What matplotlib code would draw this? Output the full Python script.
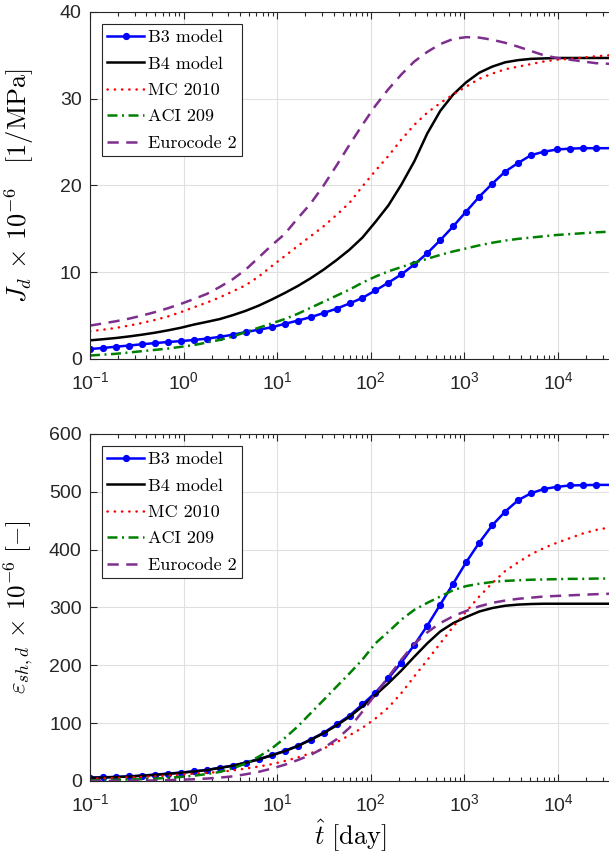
import numpy as np
import matplotlib
matplotlib.use('Agg')
import matplotlib.pyplot as plt
from matplotlib.ticker import FuncFormatter, FixedLocator, LogLocator, NullFormatter

plt.rcParams['font.family'] = 'Liberation Sans'
plt.rcParams['mathtext.fontset'] = 'cm'
plt.rcParams['axes.unicode_minus'] = False

# time axis shared by all curves [day]
t_days = [0.1, 0.138, 0.189, 0.261, 0.358, 0.493, 0.679, 0.933, 1.28, 1.77,
          2.43, 3.35, 4.60, 6.34, 8.72, 12.0, 16.5, 22.7, 31.3, 43.0,
          59.2, 81.4, 112, 154, 212, 292, 401, 552, 760, 1045,
          1439, 1980, 2724, 3748, 5157, 7096, 9763, 13430, 18480, 25430, 40000]

# drying creep compliance J_d x 1e-6 [1/MPa]
J_B3 = [1.15, 1.27, 1.42, 1.55, 1.70, 1.83, 1.96, 2.06, 2.19, 2.35,
        2.55, 2.80, 3.10, 3.38, 3.65, 4.05, 4.42, 4.82, 5.30, 5.80,
        6.40, 7.05, 7.90, 8.80, 9.75, 10.9, 12.2, 13.7, 15.3, 17.0,
        18.7, 20.2, 21.6, 22.6, 23.5, 23.9, 24.15, 24.25, 24.3, 24.3, 24.3]
J_B4 = [2.15, 2.28, 2.42, 2.60, 2.80, 3.03, 3.30, 3.60, 3.96, 4.28,
        4.60, 5.05, 5.55, 6.15, 6.85, 7.60, 8.40, 9.30, 10.3, 11.4,
        12.6, 14.0, 15.8, 17.7, 20.1, 22.8, 26.0, 28.6, 30.5, 31.9,
        33.0, 33.7, 34.2, 34.45, 34.6, 34.65, 34.7, 34.7, 34.7, 34.7, 34.7]
J_MC = [3.20, 3.38, 3.58, 3.85, 4.15, 4.50, 4.90, 5.40, 5.95, 6.50,
        7.10, 7.80, 8.50, 9.50, 10.7, 11.85, 13.0, 14.15, 15.3, 16.6,
        18.0, 19.9, 21.7, 23.4, 25.3, 27.0, 28.4, 29.5, 30.5, 31.4,
        32.3, 32.9, 33.4, 33.7, 34.0, 34.3, 34.5, 34.6, 34.75, 34.9, 35.05]
J_ACI = [0.40, 0.50, 0.60, 0.75, 0.90, 1.05, 1.20, 1.40, 1.60, 1.90,
         2.20, 2.60, 3.10, 3.60, 4.10, 4.60, 5.20, 5.90, 6.60, 7.30,
         8.00, 8.80, 9.50, 10.1, 10.6, 11.1, 11.55, 12.0, 12.4, 12.75,
         13.1, 13.4, 13.65, 13.85, 14.0, 14.15, 14.3, 14.4, 14.5, 14.6, 14.7]
J_EC2 = [3.85, 4.10, 4.35, 4.65, 5.00, 5.40, 5.85, 6.35, 6.90, 7.50,
         8.30, 9.20, 10.3, 11.7, 13.1, 14.4, 16.2, 17.9, 20.0, 22.3,
         24.7, 27.0, 29.2, 31.1, 32.8, 34.3, 35.4, 36.3, 36.9, 37.1,
         37.05, 36.8, 36.45, 36.0, 35.5, 35.0, 34.7, 34.5, 34.3, 34.1, 34.0]

# drying shrinkage eps_sh,d x 1e-6 [-]
S_B3 = [5.8, 6.4, 7.0, 8.0, 9.3, 11.0, 12.7, 14.5, 16.8, 19.0,
        23.0, 26.6, 31.8, 37.6, 44.6, 52.0, 60.8, 71.7, 83.3, 97.8,
        112.8, 132.5, 152.8, 177.6, 204.8, 235.5, 268.5, 305, 341.4, 378.4,
        412, 442, 465.8, 485.5, 497.6, 505, 508.6, 511, 511.5, 512, 512]
S_B4 = [5.5, 6.1, 6.8, 7.7, 9.0, 10.6, 12.3, 14.2, 16.4, 18.8,
        22.5, 26.3, 31.5, 37.3, 44.3, 51.5, 60.3, 71.0, 82.5, 96.0,
        111, 129, 148.7, 169, 191, 215, 238, 258.6, 273, 283.5,
        293, 299, 303, 305, 306, 306.5, 306.5, 306.5, 306.5, 306.5, 306.5]
S_MC = [4.0, 4.6, 5.2, 6.1, 7.0, 8.1, 9.3, 11.0, 12.7, 14.1,
        15.6, 18.3, 21.4, 25.0, 29.0, 34.5, 40.5, 48.0, 56.0, 67.0,
        79.0, 92.0, 108, 127, 152, 181, 209, 238, 267, 293,
        319, 342, 363, 378, 392, 403, 412, 420, 428, 434, 440]
S_ACI = [1.0, 1.5, 2.0, 2.5, 3.0, 4.0, 5.5, 7.0, 9.0, 12.0,
         15.6, 22.0, 30.0, 42.0, 56.0, 74.0, 94.0, 117, 140, 163,
         186, 210, 238, 258, 279, 296, 308, 319, 330, 337,
         341, 344, 346, 347, 348, 348.5, 349, 349.5, 349.5, 350, 350]
S_EC2 = [0.0, 0.1, 0.2, 0.35, 0.5, 0.9, 1.5, 2.2, 3.0, 4.2,
         5.8, 8.0, 11.6, 15.8, 21.4, 28.0, 36.0, 45.0, 57.0, 72.0,
         92.0, 120, 150, 180, 210, 237, 257, 273, 285, 294,
         302, 308, 312, 315, 317, 319, 320, 321, 322, 323, 324]

labels = ['B3 model', 'B4 model', 'MC 2010', 'ACI 209', 'Eurocode 2']

ink = '#262626'
purple = (0.494, 0.184, 0.556)
green = (0.0, 0.5, 0.0)

fig = plt.figure(figsize=(6.09, 8.57), dpi=100)
ax_w = 0.9222
ax1 = fig.add_axes([0.1478, 0.5811, ax_w, 0.4049])
ax2 = fig.add_axes([0.1478, 0.0887, ax_w, 0.4049])


def draw(ax, b3, b4, mc, aci, ec2):
    lw = 1.8
    ax.plot(t_days, b3, '-', color='#0000ff', lw=lw, marker='o', ms=4.2,
            label=labels[0])
    ax.plot(t_days, b4, '-', color='k', lw=lw, label=labels[1])
    ax.plot(t_days, mc, color='#ff0000', lw=lw, ls=(0, (0.1, 2.8)),
            dash_capstyle='round', label=labels[2])
    ax.plot(t_days, aci, color=green, lw=lw, ls=(0, (4, 1.8, 0.8, 1.8)),
            label=labels[3])
    ax.plot(t_days, ec2, color=purple, lw=lw, ls=(0, (4.5, 3)),
            label=labels[4])

    ax.set_xscale('log')
    ax.set_xlim(0.1, 1e5)
    ax.xaxis.set_major_locator(FixedLocator([0.1, 1, 10, 100, 1000, 1e4]))
    ax.xaxis.set_minor_locator(LogLocator(base=10, subs=np.arange(2, 10), numticks=20))
    ax.xaxis.set_minor_formatter(NullFormatter())
    ax.xaxis.set_major_formatter(FuncFormatter(
        lambda v, p: r'$\mathregular{10^{%d}}$' % round(np.log10(v))))
    ax.grid(True, which='major', color='#e0e0e0', lw=0.8)
    ax.set_axisbelow(True)
    ax.tick_params(which='both', direction='in', top=True, right=True,
                   colors=ink, labelsize=14, width=0.8)
    ax.tick_params(which='major', length=5)
    ax.tick_params(which='minor', length=3)
    ax.tick_params(axis='x', pad=9)
    ax.tick_params(axis='y', pad=6)
    for s in ax.spines.values():
        s.set_color(ink)
        s.set_linewidth(0.8)

    leg = ax.legend(loc='upper left', bbox_to_anchor=(0.0214, 0.9654),
                    borderaxespad=0, fancybox=False, framealpha=1,
                    edgecolor=ink, prop={'family': 'cmr10', 'size': 13},
                    handlelength=2.0, handletextpad=0.22, labelspacing=0.6,
                    borderpad=0.3)
    leg.get_frame().set_linewidth(0.8)


draw(ax1, J_B3, J_B4, J_MC, J_ACI, J_EC2)
ax1.set_ylim(0, 40)
ax1.set_yticks([0, 10, 20, 30, 40])
ax1.set_ylabel(r'$J_d \,\times\, 10^{-6}\quad[1/\mathrm{MPa}]$', fontsize=19)
ax1.yaxis.set_label_coords(-0.097, 0.5)

draw(ax2, S_B3, S_B4, S_MC, S_ACI, S_EC2)
ax2.set_ylim(0, 600)
ax2.set_yticks([0, 100, 200, 300, 400, 500, 600])
ax2.set_ylabel(r'$\varepsilon_{sh,d} \,\times\, 10^{-6}\ [-]$', fontsize=18)
ax2.yaxis.set_label_coords(-0.097, 0.5)
ax2.set_xlabel(r'$\hat{t}\ [\mathrm{day}]$', fontsize=19)
# the x label sits centred on the visible part of the axis
ax2.xaxis.set_label_coords((350 - 90) / (ax_w * 609), -0.107)

fig.savefig('out.png', dpi=100)
